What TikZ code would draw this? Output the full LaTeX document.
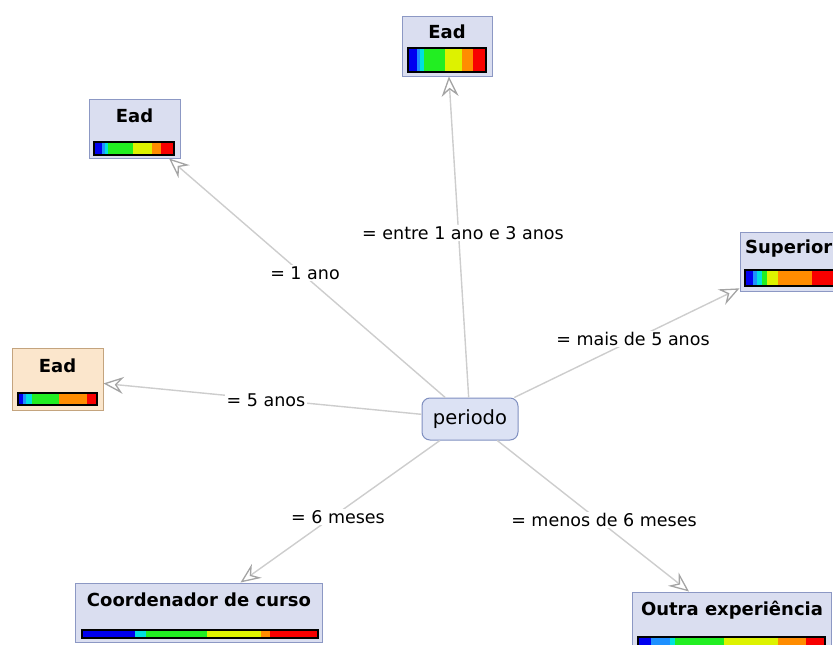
\documentclass[tikz,border=0pt]{standalone}
\usepackage{fontspec}
\setmainfont{DejaVu Sans}
\usetikzlibrary{arrows.meta}
\definecolor{boxfill}{HTML}{DADEF0}
\definecolor{boxline}{HTML}{8C98C4}
\definecolor{orfill}{HTML}{FBE6CC}
\definecolor{orline}{HTML}{C4A47E}
\definecolor{perfill}{HTML}{DCE2F4}
\definecolor{perline}{HTML}{7F8FC0}
\definecolor{edgecol}{HTML}{CDCDCD}
\definecolor{tipcol}{HTML}{A4A4A4}
\definecolor{cB}{HTML}{0000F0}
\definecolor{cLB}{HTML}{1E90FF}
\definecolor{cC}{HTML}{00E0E0}
\definecolor{cG}{HTML}{22EE22}
\definecolor{cY}{HTML}{DDF200}
\definecolor{cO}{HTML}{FF8C00}
\definecolor{cR}{HTML}{F80000}
\newcommand{\colbar}[5]{%
  \foreach \a/\b/\c in {#5} {\fill[\c] ({#1+\a*(#3-#1)},#2) rectangle ({#1+\b*(#3-#1)},#4);}
  \draw[black, line width=1.3pt] (#1,#2) rectangle (#3,#4);}
\tikzset{
  fbox/.style={draw=boxline, fill=boxfill, line width=1pt},
  obox/.style={draw=orline, fill=orfill, line width=1pt},
  ttl/.style={font=\bfseries\fontsize{18}{20}\selectfont, anchor=base, inner sep=0pt},
  lbl/.style={font=\fontsize{17.5}{20}\selectfont, fill=white, inner sep=1.5pt},
  edge/.style={draw=edgecol, line width=1.4pt,
    -{Stealth[open, length=20pt, width=17pt, inset=7pt, line width=1.3pt, color=tipcol]}},
}
\begin{document}
\begin{tikzpicture}[x=1pt,y=-1pt]
\useasboundingbox (0,0) rectangle (833,645);
\clip (0,0) rectangle (833,645);
% nodes (boxes)
\node[fbox, rounded corners=8pt, fill=perfill, draw=perline, minimum width=96pt, minimum height=42pt, inner sep=0pt,
  font=\fontsize{19.5}{22}\selectfont] (per) at (470,419) {periodo};
\node[fbox, minimum width=90pt, minimum height=60pt, inner sep=0pt] (eadT) at (447,46) {};
\node[fbox, minimum width=91pt, minimum height=59pt, inner sep=0pt] (eadL) at (134.5,128.5) {};
\node[fbox, minimum width=110pt, minimum height=59pt, inner sep=0pt] (sup) at (795,261.5) {};
\node[obox, minimum width=91pt, minimum height=62pt, inner sep=0pt] (ead5) at (57.5,379) {};
\node[fbox, minimum width=247pt, minimum height=59pt, inner sep=0pt] (coord) at (198.5,612.5) {};
\node[fbox, minimum width=199pt, minimum height=66pt, inner sep=0pt] (outra) at (731.5,625) {};
% titles
\node[ttl] (tEadT) at (447,38) {Ead};
\node[ttl] (tEadL) at (134.5,122) {Ead};
\node[ttl, anchor=base west] (tSup) at (745,253) {Superior};
\node[ttl] (tEad5) at (57.5,372) {Ead};
\node[ttl] (tCoord) at (199,606) {Coordenador de curso};
\node[ttl] (tOutra) at (732,615) {Outra experiência};
% colour bars
\colbar{408}{48}{486}{72}{0/0.11/cB,0.11/0.16/cLB,0.16/0.2/cC,0.2/0.48/cG,0.48/0.69/cY,0.69/0.83/cO,0.83/1/cR}
\colbar{94}{142}{174}{155}{0/0.1/cB,0.1/0.14/cLB,0.14/0.18/cC,0.18/0.49/cG,0.49/0.72/cY,0.72/0.84/cO,0.84/1/cR}
\colbar{745}{270}{845}{286}{0/0.08/cB,0.08/0.12/cLB,0.12/0.17/cC,0.17/0.22/cG,0.22/0.33/cY,0.33/0.67/cO,0.67/1/cR}
\colbar{18}{393}{97}{405}{0/0.06/cB,0.06/0.1/cLB,0.1/0.18/cC,0.18/0.52/cG,0.52/0.87/cO,0.87/1/cR}
\colbar{82}{630}{318}{638}{0/0.225/cB,0.225/0.27/cC,0.27/0.29/cG,0.29/0.53/cG,0.53/0.76/cY,0.76/0.795/cO,0.795/1/cR}
\colbar{638}{637}{825}{652}{0/0.07/cB,0.07/0.17/cLB,0.17/0.2/cC,0.2/0.46/cG,0.46/0.75/cY,0.75/0.9/cO,0.9/1/cR}
% connectors
\draw[edge] (per) -- (eadT);
\draw[edge] (per) -- (eadL);
\draw[edge] (per) -- (sup);
\draw[edge] (per) -- (ead5);
\draw[edge] (per) -- (coord);
\draw[edge] (per) -- (outra);
% labels
\node[lbl] (l1) at (463,233) {= entre 1 ano e 3 anos};
\node[lbl] (l2) at (305,273) {= 1 ano};
\node[lbl] (l3) at (633,339) {= mais de 5 anos};
\node[lbl] (l4) at (266,400) {= 5 anos};
\node[lbl] (l5) at (338,517) {= 6 meses};
\node[lbl] (l6) at (604,520) {= menos de 6 meses};
\end{tikzpicture}
\end{document}
